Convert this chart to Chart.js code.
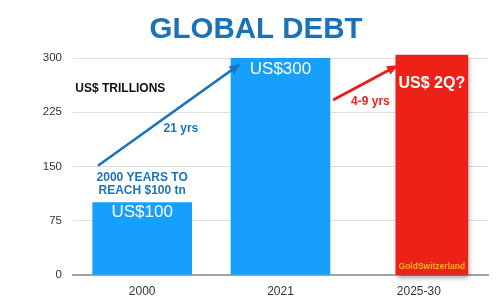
<!DOCTYPE html>
<html>
<head>
<meta charset="utf-8">
<script src="https://cdn.jsdelivr.net/npm/chart.js@4/dist/chart.umd.min.js"></script>
<style>
  html, body { margin: 0; padding: 0; background: #fff; }
  #wrap { width: 500px; height: 306px; }
</style>
</head>
<body>
<div id="wrap"><canvas id="debtChart" width="500" height="306"></canvas></div>
<script>
// Data (US$ trillions)
const categories = ['2000', '2021', '2025-30'];
const actualDebt = [100, 300, null];
const projectedDebt = [null, null, 304];
const yTicks = [0, 75, 150, 225, 300];

const FONT = '"Liberation Sans", Arial, Helvetica, sans-serif';
const BLUE_TEXT = '#1b74bb';
// the projected bar sits a little right of its tick (fraction of a category)
const PROJ_SHIFT = 0.094;

// annotations, positioned in data space (x = category index, y = value)
const labels = [
	{ text: 'US$ TRILLIONS', x: -0.483, y: 257, color: '#111', size: 12, bold: true, align: 'left' },
	{ text: '21 yrs', x: 0.28, y: 202, color: BLUE_TEXT, size: 12, bold: true },
	{ text: '2000 YEARS TO', x: 0, y: 135, color: BLUE_TEXT, size: 12, bold: true },
	{ text: 'REACH $100 tn', x: 0, y: 116, color: BLUE_TEXT, size: 12, bold: true },
	{ text: 'US$100', x: 0, y: 86, color: '#fff', size: 17 },
	{ text: 'US$300', x: 1, y: 284, color: '#fff', size: 17 },
	{ text: 'US$ 2Q?', x: 2 + PROJ_SHIFT, y: 264, color: '#fff', size: 16, bold: true },
	{ text: '4-9 yrs', x: 1.65, y: 240, color: '#e8231b', size: 12, bold: true },
	{ text: 'GoldSwitzerland', x: 2 + PROJ_SHIFT, y: 12, color: '#f8b41c', size: 8.5, bold: true }
];
const arrows = [
	{ from: [-0.32, 151], to: [0.71, 292], color: '#1b75bc', width: 2.5 },
	{ from: [1.38, 242], to: [1.85, 290], color: '#e8201b', width: 3 }
];

const shadowPlugin = {
	id: 'barShadow',
	beforeDatasetDraw(chart, args) {
		if (args.index !== 1) return;
		const ctx = chart.ctx;
		const xs = chart.scales.x;
		ctx.save();
		ctx.translate(PROJ_SHIFT * (xs.right - xs.left) / categories.length, 0);
		ctx.shadowColor = 'rgba(0,0,0,0.4)';
		ctx.shadowBlur = 5;
		ctx.shadowOffsetX = 1;
		ctx.shadowOffsetY = 3;
	},
	afterDatasetDraw(chart, args) {
		if (args.index !== 1) return;
		chart.ctx.restore();
	}
};

const annotationPlugin = {
	id: 'annotations',
	afterDraw(chart) {
		const ctx = chart.ctx;
		const xs = chart.scales.x, ys = chart.scales.y;
		const catW = (xs.right - xs.left) / categories.length;
		const px = (v) => xs.left + (v + 0.5) * catW;
		const py = (v) => ys.getPixelForValue(v);

		ctx.save();
		// title
		ctx.fillStyle = '#1a72b8';
		ctx.font = 'bold 29.5px ' + FONT;
		ctx.textAlign = 'center';
		ctx.textBaseline = 'alphabetic';
		ctx.fillText('GLOBAL DEBT', (chart.width + 12) / 2, 38);

		ctx.textBaseline = 'middle';
		labels.forEach((l) => {
			ctx.font = (l.bold ? 'bold ' : '') + l.size + 'px ' + FONT;
			ctx.fillStyle = l.color;
			ctx.textAlign = l.align || 'center';
			ctx.fillText(l.text, px(l.x), py(l.y));
		});

		arrows.forEach((a) => {
			const x1 = px(a.from[0]), y1 = py(a.from[1]);
			const x2 = px(a.to[0]), y2 = py(a.to[1]);
			const ang = Math.atan2(y2 - y1, x2 - x1);
			const head = 12;
			ctx.strokeStyle = a.color;
			ctx.fillStyle = a.color;
			ctx.lineWidth = a.width;
			ctx.beginPath();
			ctx.moveTo(x1, y1);
			ctx.lineTo(x2 - Math.cos(ang) * head * 0.8, y2 - Math.sin(ang) * head * 0.8);
			ctx.stroke();
			ctx.beginPath();
			ctx.moveTo(x2, y2);
			ctx.lineTo(x2 - head * Math.cos(ang - 0.4), y2 - head * Math.sin(ang - 0.4));
			ctx.lineTo(x2 - head * Math.cos(ang + 0.4), y2 - head * Math.sin(ang + 0.4));
			ctx.closePath();
			ctx.fill();
		});
		ctx.restore();
	}
};

const ctx = document.getElementById('debtChart').getContext('2d');
const debtChart = new Chart(ctx, {
	type: 'bar',
	data: {
		labels: categories,
		datasets: [{
			label: 'Global debt',
			data: actualDebt,
			backgroundColor: '#16a0fb',
			barThickness: 99
		}, {
			label: 'Projected',
			data: projectedDebt,
			backgroundColor: '#ee2118',
			barThickness: 72,
			clip: false
		}]
	},
	options: {
		responsive: false,
		animation: false,
		layout: { padding: { top: 58, right: 12, bottom: 0, left: 0 } },
		datasets: { bar: { grouped: false } },
		plugins: {
			legend: { display: false },
			tooltip: { enabled: false },
			title: { display: false }
		},
		scales: {
			x: {
				grid: { display: false },
				border: { display: true, color: '#a3a3a3', width: 2 },
				ticks: { color: '#333', padding: 1, font: { family: FONT, size: 12 } },
				afterFit: (scale) => { scale.height = 31; }
			},
			y: {
				min: 0,
				max: 300,
				afterBuildTicks: (scale) => { scale.ticks = yTicks.map((v) => ({ value: v })); },
				grid: { color: '#dedede', lineWidth: 1, drawTicks: false },
				border: { display: false },
				ticks: { color: '#333', padding: 11, font: { family: FONT, size: 11.5 } },
				afterFit: (scale) => { scale.width = 73; }
			}
		}
	},
	plugins: [shadowPlugin, annotationPlugin]
});
</script>
</body>
</html>
